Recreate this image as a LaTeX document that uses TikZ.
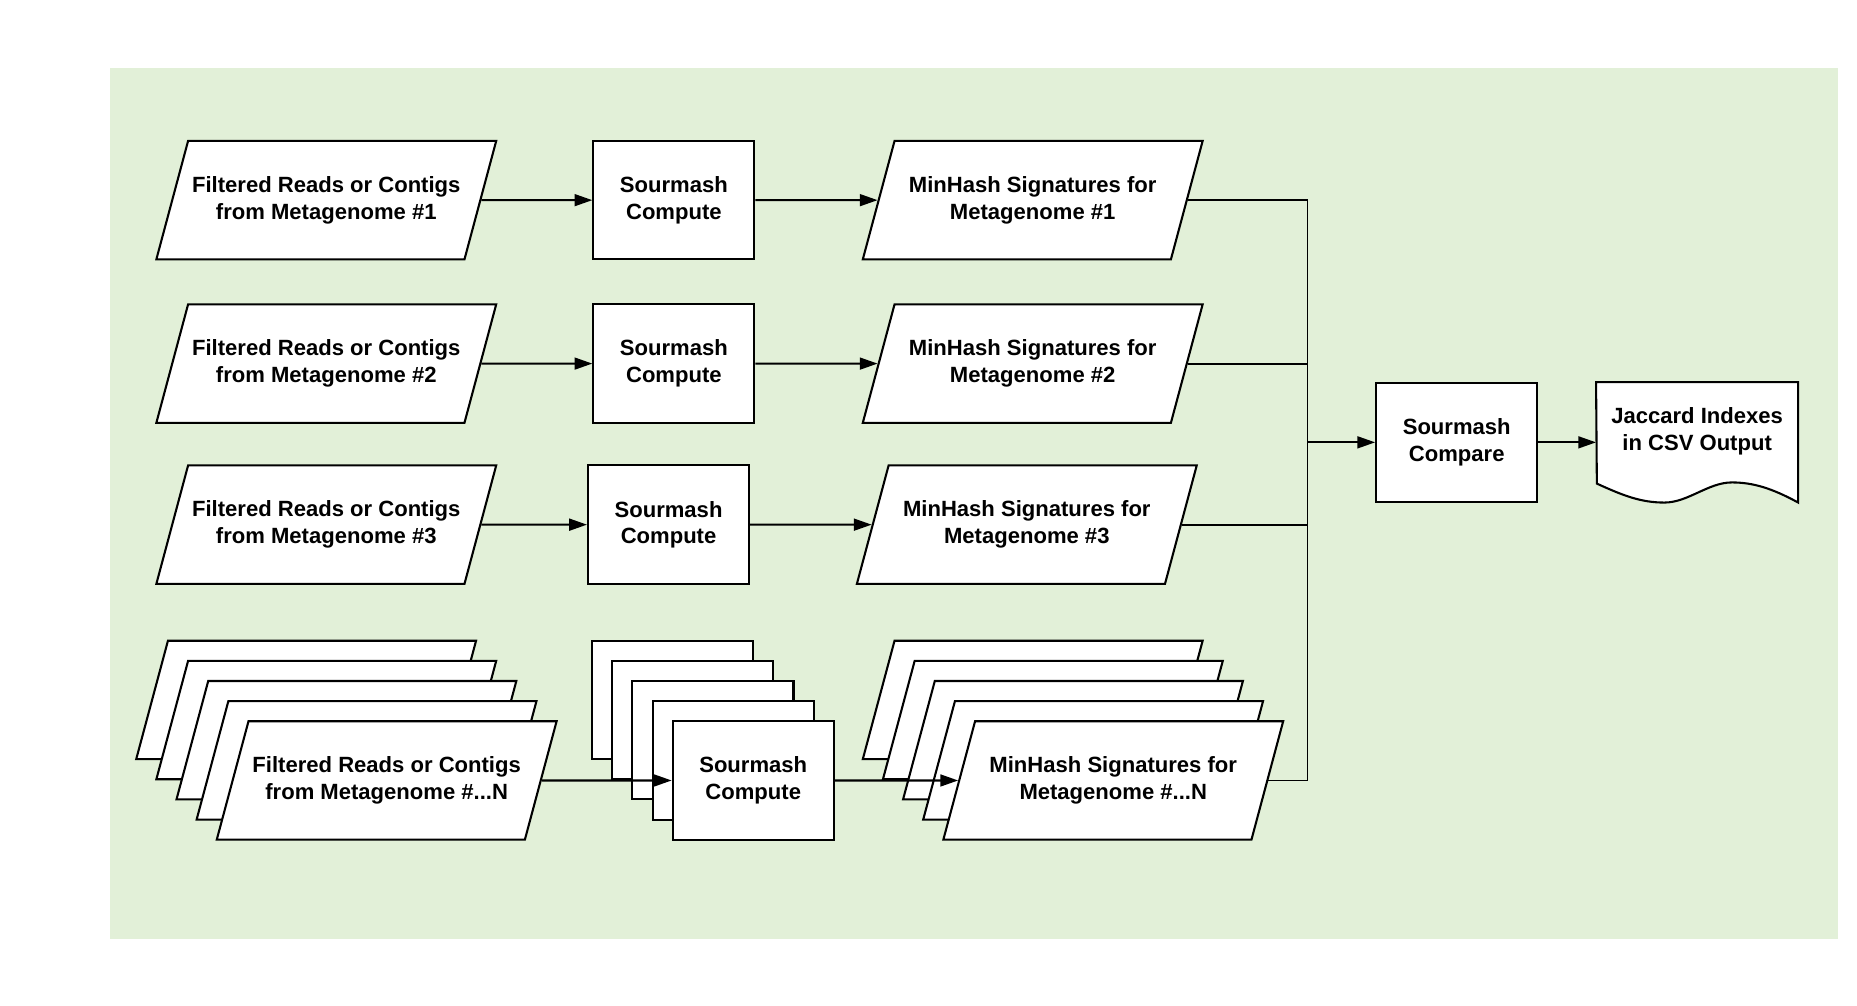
\documentclass[tikz,border=0pt]{standalone}
\usepackage{fontspec}
\setmainfont{Liberation Sans}
\usetikzlibrary{shapes.geometric,arrows.meta,backgrounds}
\definecolor{bgGreen}{RGB}{226,240,216}
\tikzset{
  base/.style={draw,fill=white,line width=1pt,inner sep=1pt,%
    font=\fontsize{10.6}{12.8}\selectfont\bfseries},
  parabox/.style={base,trapezium,trapezium left angle=75,trapezium right angle=105,%
    trapezium stretches body=true,minimum width=5.74cm,inner xsep=0pt,inner ysep=0.2cm,%
    execute at begin node={\begin{minipage}[c][1.6cm][c]{4.55cm}\centering},%
    execute at end node={\end{minipage}}},
  cmpbox/.style={base,rectangle,align=center,minimum width=2.72cm,minimum height=2cm},
  docnode/.style={rectangle,inner sep=0pt,align=center,minimum width=3.4cm,minimum height=2.02cm,%
    font=\fontsize{10.6}{12.8}\selectfont\bfseries},
  arr/.style={-{Triangle[length=0.3cm,width=0.2cm]},line width=1pt},
  busline/.style={line width=0.9pt,line join=miter}
}
\begin{document}
\begin{tikzpicture}[x=0.02cm,y=-0.02cm]
\useasboundingbox (0,0) rectangle (1568,849);
\begin{scope}[on background layer]
\fill[bgGreen] (93,57) rectangle (1552,793);
\end{scope}

\foreach \n/\y/\xc/\xs in {1/169/569/872,2/307/569/872,3/443/564.5/867}{
  \node[parabox] (in\n) at (275.5,\y) {Filtered Reads or Contigs\\from Metagenome \#\n};
  \node[cmpbox] (cmp\n) at (\xc,\y) {Sourmash\\Compute};
  \node[parabox] (mh\n) at (\xs,\y) {MinHash Signatures for\\Metagenome \#\n};
  \draw[arr] (in\n) -- (cmp\n);
  \draw[arr] (cmp\n) -- (mh\n);
}

\foreach \k in {4,3,2,1}{
  \node[parabox] (inN-\k) at ({326.5-17*\k},{659-17*\k}) {};
  \node[cmpbox] (cmpN-\k) at ({636-17*\k},{659-17*\k}) {};
  \node[parabox] (mhN-\k) at ({940-17*\k},{659-17*\k}) {};
}
\node[parabox] (inN) at (326.5,659) {Filtered Reads or Contigs\\from Metagenome \#...N};
\node[cmpbox] (cmpN) at (636,659) {Sourmash\\Compute};
\node[parabox] (mhN) at (940,659) {MinHash Signatures for\\Metagenome \#...N};
\draw[arr] (inN) -- (cmpN);
\draw[arr] (cmpN) -- (mhN);

\node[cmpbox] (cmpAll) at (1230,373.5) {Sourmash\\Compare};
\node[docnode] (jac) at (1433,373.5) {Jaccard Indexes\\in CSV Output\\\mbox{}};
\begin{scope}[on background layer]
\draw[base] (jac.north west) -- (jac.north east) -- (jac.south east)
  .. controls +(-22,-12) and +(18,0) .. ++(-56,-17)
  .. controls +(-20,0) and +(20,0) .. ++(-57,17)
  .. controls +(-20,0) and +(22,10) .. ++(-57,-16) -- cycle;
\end{scope}

\coordinate (join) at (1104,373.5);
\draw[busline] (mh1.east) -| (mhN.east -| join) -- (mhN.east);
\draw[busline] (mh2.east) -- (mh2.east -| join);
\draw[busline] (mh3.east) -- (mh3.east -| join);
\draw[arr] (join) -- (cmpAll);
\draw[arr] (cmpAll) -- (jac);
\end{tikzpicture}
\end{document}
